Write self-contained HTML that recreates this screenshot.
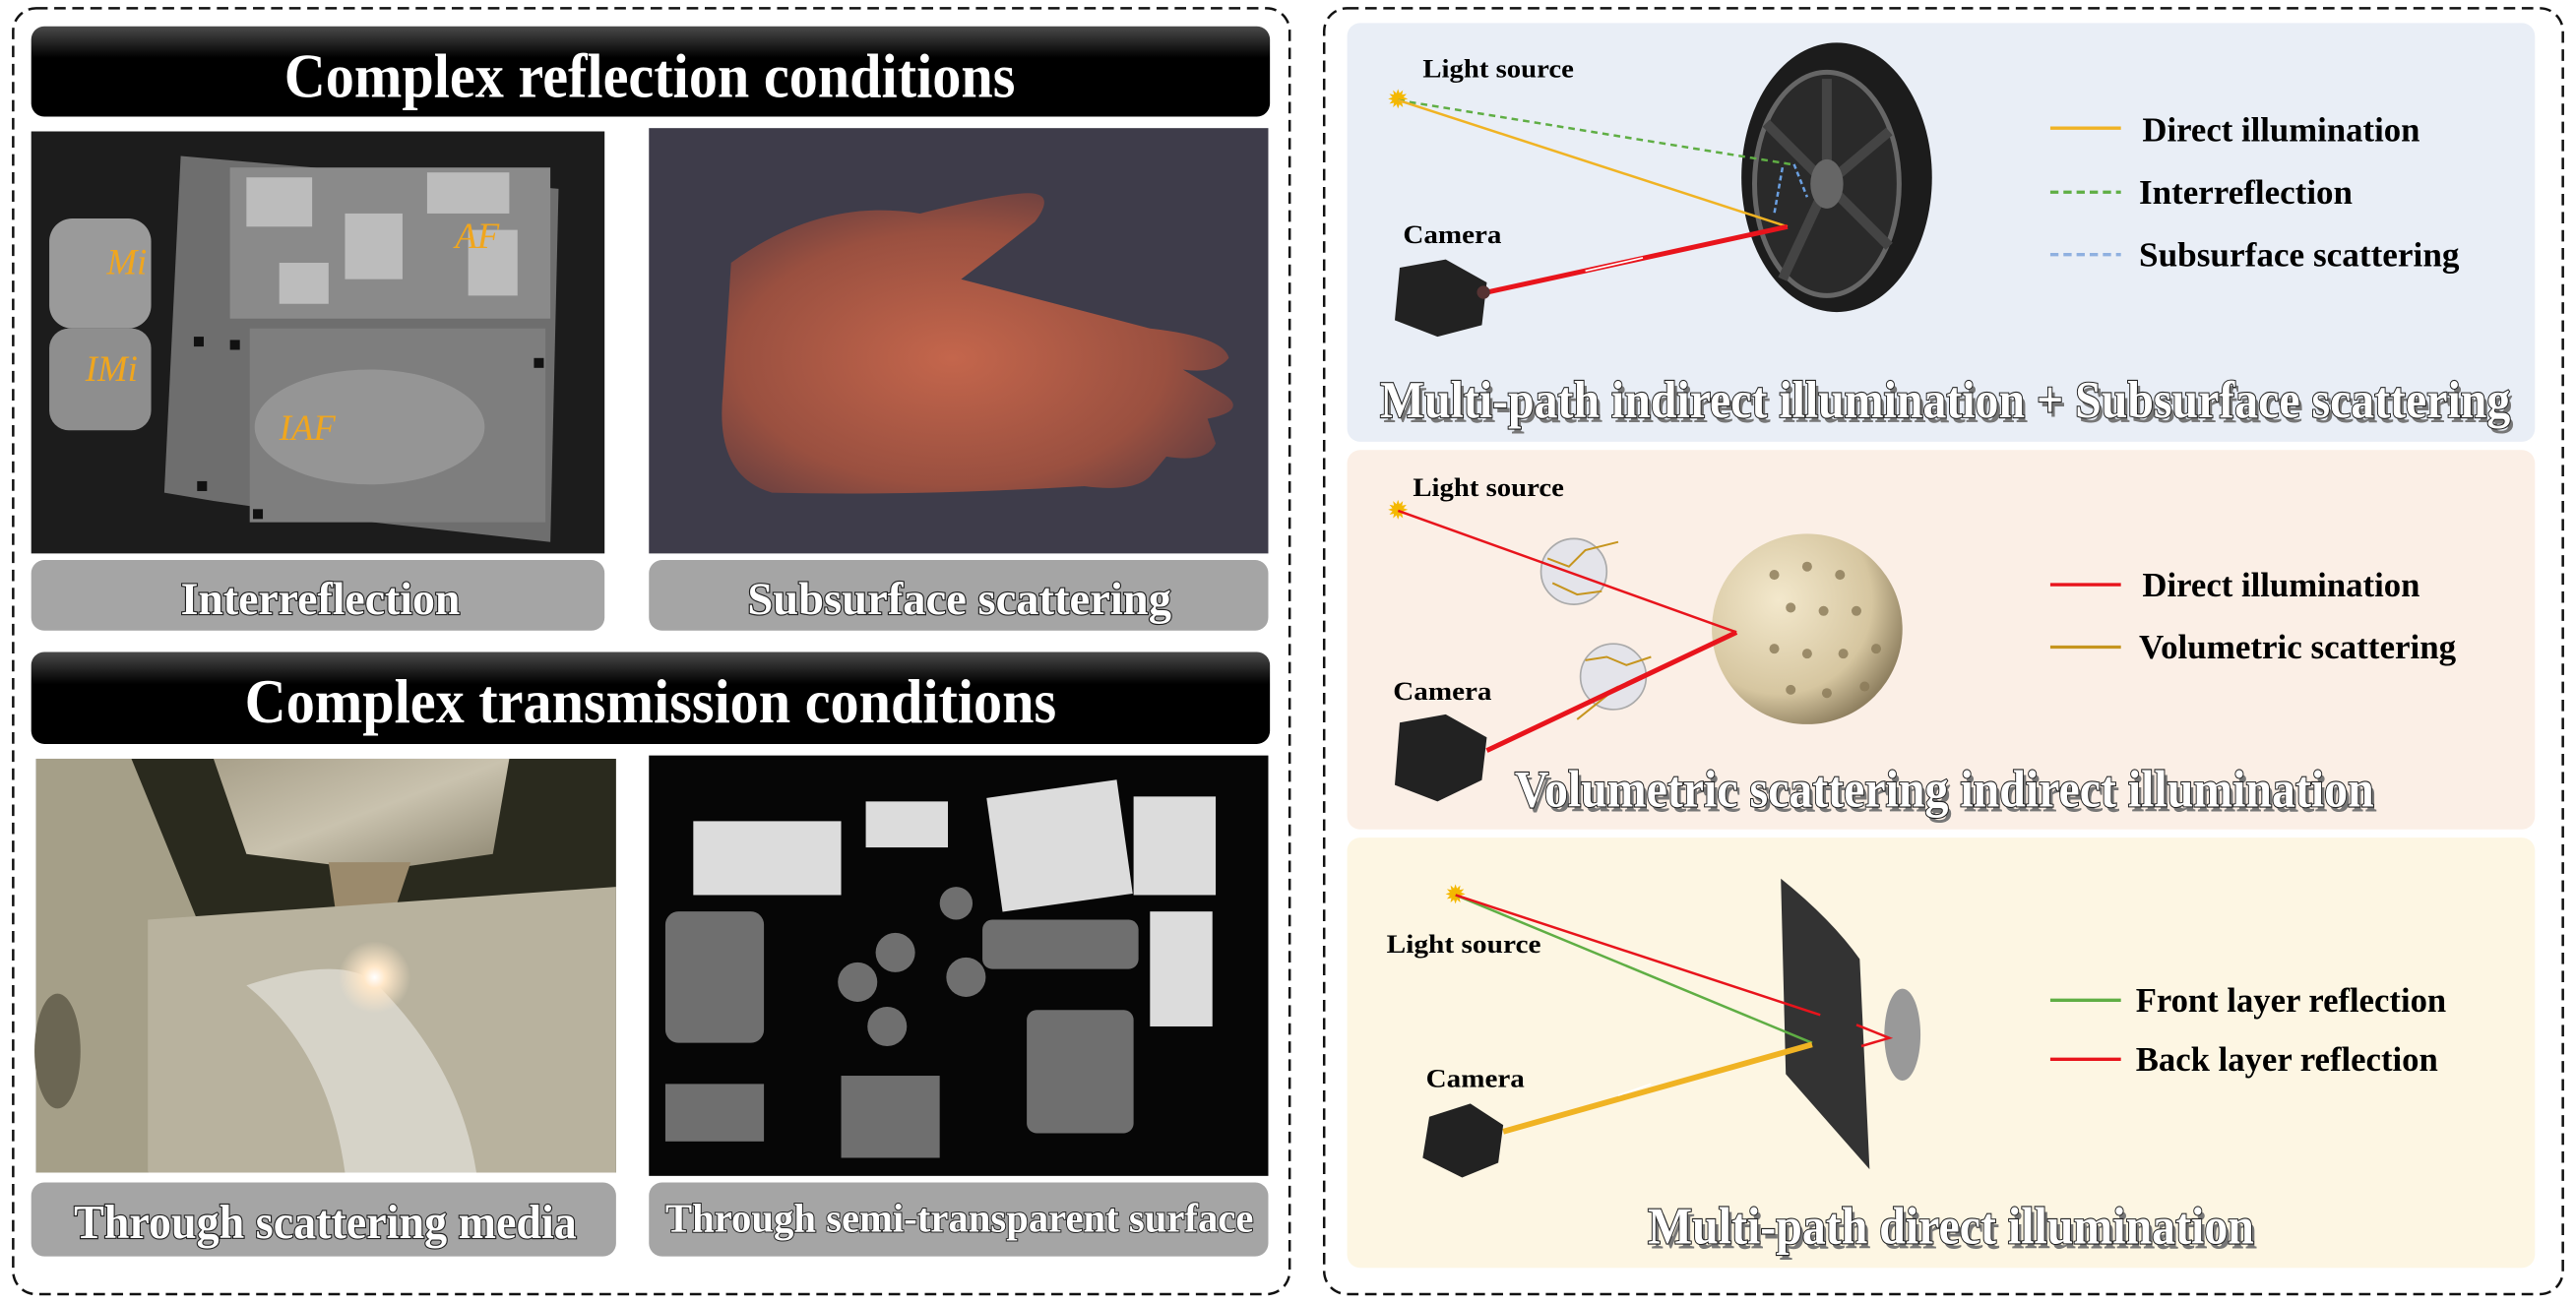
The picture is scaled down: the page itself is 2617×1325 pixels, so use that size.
<!DOCTYPE html>
<html><head><meta charset="utf-8"><style>
html,body{margin:0;padding:0;background:#fff;}
svg{display:block;}
text{font-family:"Liberation Serif",serif;}
</style></head><body>
<svg width="2617" height="1325" viewBox="0 0 1568 794" preserveAspectRatio="none" xmlns="http://www.w3.org/2000/svg">
<defs>
<linearGradient id="hdr" x1="0" y1="0" x2="0" y2="1"><stop offset="0" stop-color="#4a4a4a"/><stop offset="0.35" stop-color="#000"/><stop offset="1" stop-color="#000"/></linearGradient>
<radialGradient id="hand" cx="0.45" cy="0.55" r="0.6"><stop offset="0" stop-color="#c4664c"/><stop offset="0.7" stop-color="#9a5040"/><stop offset="1" stop-color="#6a4040"/></radialGradient>
<radialGradient id="sph" cx="0.35" cy="0.35" r="0.7"><stop offset="0" stop-color="#f3e8cc"/><stop offset="0.7" stop-color="#d6c6a0"/><stop offset="1" stop-color="#8f8060"/></radialGradient>
<radialGradient id="spark" cx="0.5" cy="0.5" r="0.5"><stop offset="0" stop-color="#fff"/><stop offset="0.3" stop-color="#ffe7c8"/><stop offset="1" stop-color="#ffe7c8" stop-opacity="0"/></radialGradient>
<linearGradient id="metal" x1="0" y1="0" x2="1" y2="1"><stop offset="0" stop-color="#a8a08a"/><stop offset="0.5" stop-color="#c9c2ae"/><stop offset="1" stop-color="#8a836e"/></linearGradient>
</defs>

<rect x="8" y="5" width="777" height="783" rx="14" fill="none" stroke="#111" stroke-width="1.5" stroke-dasharray="7,4"/>
<rect x="806" y="5" width="754" height="783" rx="14" fill="none" stroke="#111" stroke-width="1.5" stroke-dasharray="7,4"/>

<rect x="19" y="16" width="754" height="55" rx="8" fill="url(#hdr)"/>
<text x="173" y="59" font-size="38" font-weight="bold" fill="#fff" textLength="445" lengthAdjust="spacingAndGlyphs">Complex reflection conditions</text>

<!-- image 1 -->
<rect x="19" y="80" width="349" height="257" fill="#1c1c1c"/>
<polygon points="110,95 340,115 335,330 200,315 130,305 100,300" fill="#6e6e6e"/>
<rect x="140" y="102" width="195" height="92" fill="#8a8a8a"/>
<g fill="#e6e6e6" opacity="0.55"><rect x="150" y="108" width="40" height="30"/><rect x="210" y="130" width="35" height="40"/><rect x="260" y="105" width="50" height="25"/><rect x="170" y="160" width="30" height="25"/><rect x="285" y="140" width="30" height="40"/></g>
<rect x="152" y="200" width="180" height="118" fill="#7e7e7e"/>
<ellipse cx="225" cy="260" rx="70" ry="35" fill="#a5a5a5" opacity="0.6"/>
<rect x="30" y="133" width="62" height="67" rx="14" fill="#9a9a9a"/>
<rect x="30" y="200" width="62" height="62" rx="12" fill="#8e8e8e"/>
<g fill="#111"><rect x="140" y="207" width="6" height="6"/><rect x="118" y="205" width="6" height="6"/><rect x="325" y="218" width="6" height="6"/><rect x="154" y="310" width="6" height="6"/><rect x="120" y="293" width="6" height="6"/></g>
<g font-style="italic" font-size="22" fill="#f0a61e"><text x="65" y="167">Mi</text><text x="52" y="232">IMi</text><text x="277" y="151">AF</text><text x="170" y="268">IAF</text></g>
<rect x="19" y="341" width="349" height="43" rx="8" fill="#a5a5a5"/>
<text x="110" y="374" font-size="28" font-weight="bold" fill="#fff" stroke="#222" stroke-width="1.4" paint-order="stroke" textLength="170" lengthAdjust="spacingAndGlyphs">Interreflection</text>

<!-- image 2 hand -->
<rect x="395" y="78" width="377" height="259" fill="#3e3c4a"/>
<path d="M445,160 Q500,120 560,130 Q600,120 620,118 Q645,115 630,135 Q605,155 585,170 L700,200 Q745,205 748,218 Q740,228 720,225 L745,240 Q760,250 735,255 L740,270 Q735,282 710,278 L700,290 Q690,300 660,296 Q560,302 470,300 Q435,290 440,240 Z" fill="url(#hand)"/>
<rect x="395" y="341" width="377" height="43" rx="8" fill="#a5a5a5"/>
<text x="455" y="374" font-size="28" font-weight="bold" fill="#fff" stroke="#222" stroke-width="1.4" paint-order="stroke" textLength="258" lengthAdjust="spacingAndGlyphs">Subsurface scattering</text>

<rect x="19" y="397" width="754" height="56" rx="8" fill="url(#hdr)"/>
<text x="149" y="440" font-size="38" font-weight="bold" fill="#fff" textLength="494" lengthAdjust="spacingAndGlyphs">Complex transmission conditions</text>

<!-- image 3 -->
<rect x="22" y="462" width="353" height="252" fill="#2a2a1e"/>
<polygon points="22,462 80,462 120,560 90,714 22,714" fill="#a59f88"/>
<polygon points="130,462 310,462 300,520 230,530 150,520" fill="url(#metal)"/>
<polygon points="200,525 250,525 240,555 220,575 205,560" fill="#9b8a6c"/>
<path d="M90,560 L375,540 L375,714 L90,714 Z" fill="#b8b29e"/>
<path d="M150,600 Q210,580 230,600 Q280,650 290,714 L210,714 Q200,640 150,600 Z" fill="#d6d3c8"/>
<ellipse cx="35" cy="640" rx="14" ry="35" fill="#6b6653"/>
<circle cx="228" cy="595" r="22" fill="url(#spark)"/>
<rect x="19" y="720" width="356" height="45" rx="8" fill="#a5a5a5"/>
<text x="45" y="754" font-size="29" font-weight="bold" fill="#fff" stroke="#222" stroke-width="1.4" paint-order="stroke" textLength="306" lengthAdjust="spacingAndGlyphs">Through scattering media</text>

<!-- image 4 -->
<rect x="395" y="460" width="377" height="256" fill="#060606"/>
<g fill="#dcdcdc"><rect x="422" y="500" width="90" height="45"/><rect x="605" y="480" width="80" height="70" transform="rotate(-8 645 515)"/><rect x="690" y="485" width="50" height="60"/><rect x="527" y="488" width="50" height="28"/><rect x="700" y="555" width="38" height="70"/></g>
<g fill="#8a8a8a" opacity="0.8"><rect x="405" y="555" width="60" height="80" rx="8"/><rect x="625" y="615" width="65" height="75" rx="6"/><rect x="598" y="560" width="95" height="30" rx="6"/><rect x="405" y="660" width="60" height="35"/><rect x="512" y="655" width="60" height="50"/><circle cx="545" cy="580" r="12"/><circle cx="522" cy="598" r="12"/><circle cx="582" cy="550" r="10"/><circle cx="588" cy="595" r="12"/><circle cx="540" cy="625" r="12"/></g>
<rect x="395" y="720" width="377" height="45" rx="8" fill="#a5a5a5"/>
<text x="405" y="750" font-size="25" font-weight="bold" fill="#fff" stroke="#222" stroke-width="1.2" paint-order="stroke" textLength="358" lengthAdjust="spacingAndGlyphs">Through semi-transparent surface</text>

<!-- right panels -->
<rect x="820" y="14" width="723" height="255" rx="8" fill="#e9eef6"/>
<rect x="820" y="274" width="723" height="231" rx="8" fill="#fbefe6"/>
<rect x="820" y="510" width="723" height="262" rx="8" fill="#fdf6e3"/>

<!-- panel1 -->
<text x="866" y="47" font-size="16" font-weight="bold" fill="#000" textLength="92" lengthAdjust="spacingAndGlyphs">Light source</text>
<text x="851" y="66" font-size="16" text-anchor="middle" fill="#f4b800">✹</text>
<ellipse cx="1118" cy="108" rx="58" ry="82" fill="#1c1c1c"/>
<ellipse cx="1112" cy="112" rx="44" ry="68" fill="#2a2a2a" stroke="#666" stroke-width="3"/>
<g stroke="#444" stroke-width="6"><line x1="1112" y1="112" x2="1112" y2="48"/><line x1="1112" y1="112" x2="1150" y2="80"/><line x1="1112" y1="112" x2="1150" y2="150"/><line x1="1112" y1="112" x2="1085" y2="170"/><line x1="1112" y1="112" x2="1075" y2="75"/></g>
<ellipse cx="1112" cy="112" rx="10" ry="15" fill="#666"/>
<line x1="851" y1="61" x2="1090" y2="100" stroke="#5fae44" stroke-width="1.5" stroke-dasharray="4,3"/>
<line x1="851" y1="61" x2="1088" y2="138" stroke="#f0b323" stroke-width="1.5"/>
<path d="M1085,102 L1080,130 M1092,100 L1100,120" stroke="#6a9fe0" stroke-width="1.5" stroke-dasharray="3,2" fill="none"/>
<line x1="1088" y1="138" x2="905" y2="178" stroke="#e8141c" stroke-width="3"/>
<line x1="1000" y1="157" x2="965" y2="165" stroke="#fff" stroke-width="1"/>
<text x="854" y="148" font-size="16" font-weight="bold" fill="#000" textLength="60" lengthAdjust="spacingAndGlyphs">Camera</text>
<polygon points="852,163 880,158 905,172 902,198 875,205 849,195" fill="#222"/>
<circle cx="903" cy="178" r="4" fill="#533"/>
<line x1="1248" y1="78" x2="1291" y2="78" stroke="#f0b323" stroke-width="2"/>
<line x1="1248" y1="117" x2="1291" y2="117" stroke="#5fae44" stroke-width="2" stroke-dasharray="5,3"/>
<line x1="1248" y1="155" x2="1291" y2="155" stroke="#8fb0e0" stroke-width="2" stroke-dasharray="5,3"/>
<g font-size="21" font-weight="bold" fill="#000"><text x="1304" y="86" textLength="169" lengthAdjust="spacingAndGlyphs">Direct illumination</text><text x="1302" y="124" textLength="130" lengthAdjust="spacingAndGlyphs">Interreflection</text><text x="1302" y="162" textLength="195" lengthAdjust="spacingAndGlyphs">Subsurface scattering</text></g>
<text x="842" y="257" font-size="32" font-weight="bold" fill="#777" textLength="688" lengthAdjust="spacingAndGlyphs">Multi-path indirect illumination + Subsurface scattering</text>
<text x="840" y="254" font-size="32" font-weight="bold" fill="#fff" stroke="#222" stroke-width="1.3" paint-order="stroke" textLength="688" lengthAdjust="spacingAndGlyphs">Multi-path indirect illumination + Subsurface scattering</text>

<!-- panel2 -->
<text x="860" y="302" font-size="16" font-weight="bold" fill="#000" textLength="92" lengthAdjust="spacingAndGlyphs">Light source</text>
<text x="851" y="316" font-size="16" text-anchor="middle" fill="#f4b800">✹</text>
<circle cx="1100" cy="383" r="58" fill="url(#sph)"/>
<g fill="#8a7a58" opacity="0.8"><circle cx="1080" cy="350" r="3"/><circle cx="1100" cy="345" r="3"/><circle cx="1120" cy="350" r="3"/><circle cx="1090" cy="370" r="3"/><circle cx="1110" cy="372" r="3"/><circle cx="1130" cy="372" r="3"/><circle cx="1080" cy="395" r="3"/><circle cx="1100" cy="398" r="3"/><circle cx="1122" cy="398" r="3"/><circle cx="1142" cy="395" r="3"/><circle cx="1090" cy="420" r="3"/><circle cx="1112" cy="422" r="3"/><circle cx="1135" cy="418" r="3"/></g>
<circle cx="958" cy="348" r="20" fill="#e4e4ea" stroke="#aaa"/>
<circle cx="982" cy="412" r="20" fill="#e4e4ea" stroke="#aaa"/>
<path d="M942,340 L955,345 L965,335 L985,330 M945,355 L960,362 L975,360" stroke="#c6951e" stroke-width="1.2" fill="none"/>
<path d="M965,402 L978,400 L990,405 L1005,400 M972,425 L985,418 L960,438" stroke="#c6951e" stroke-width="1.2" fill="none"/>
<polyline points="851,311 1057,385" fill="none" stroke="#e8141c" stroke-width="1.5"/>
<line x1="1057" y1="385" x2="905" y2="457" stroke="#e8141c" stroke-width="3"/>
<text x="848" y="426" font-size="16" font-weight="bold" fill="#000" textLength="60" lengthAdjust="spacingAndGlyphs">Camera</text>
<polygon points="852,440 880,435 905,449 902,475 875,488 849,478" fill="#222"/>
<line x1="1248" y1="356" x2="1291" y2="356" stroke="#e8141c" stroke-width="2"/>
<line x1="1248" y1="394" x2="1291" y2="394" stroke="#c6951e" stroke-width="2"/>
<g font-size="21" font-weight="bold" fill="#000"><text x="1304" y="363" textLength="169" lengthAdjust="spacingAndGlyphs">Direct illumination</text><text x="1302" y="401" textLength="193" lengthAdjust="spacingAndGlyphs">Volumetric scattering</text></g>
<text x="924" y="494" font-size="32" font-weight="bold" fill="#777" textLength="523" lengthAdjust="spacingAndGlyphs">Volumetric scattering indirect illumination</text>
<text x="922" y="491" font-size="32" font-weight="bold" fill="#fff" stroke="#222" stroke-width="1.3" paint-order="stroke" textLength="523" lengthAdjust="spacingAndGlyphs">Volumetric scattering indirect illumination</text>

<!-- panel3 -->
<text x="886" y="550" font-size="16" text-anchor="middle" fill="#f4b800">✹</text>
<text x="844" y="580" font-size="16" font-weight="bold" fill="#000" textLength="94" lengthAdjust="spacingAndGlyphs">Light source</text>
<path d="M1084,535 Q1115,560 1132,584 L1138,712 L1087,654 Z" fill="#333"/>
<ellipse cx="1158" cy="630" rx="11" ry="28" fill="#999"/>
<line x1="886" y1="545" x2="1103" y2="635" stroke="#5fae44" stroke-width="1.5"/>
<polyline points="886,545 1108,618" fill="none" stroke="#e8141c" stroke-width="1.5"/>
<polyline points="1130,624 1150,632 1133,637" fill="none" stroke="#e8141c" stroke-width="1.5"/>
<line x1="1103" y1="636" x2="915" y2="689" stroke="#f0b323" stroke-width="3.5"/>
<line x1="1005" y1="660" x2="985" y2="667" stroke="#fff" stroke-width="1"/>
<text x="868" y="662" font-size="16" font-weight="bold" fill="#000" textLength="60" lengthAdjust="spacingAndGlyphs">Camera</text>
<polygon points="870,680 895,672 915,685 912,708 890,717 866,705" fill="#222"/>
<line x1="1248" y1="609" x2="1291" y2="609" stroke="#5fae44" stroke-width="2"/>
<line x1="1248" y1="645" x2="1291" y2="645" stroke="#e8141c" stroke-width="2"/>
<g font-size="21" font-weight="bold" fill="#000"><text x="1300" y="616" textLength="189" lengthAdjust="spacingAndGlyphs">Front layer reflection</text><text x="1300" y="652" textLength="184" lengthAdjust="spacingAndGlyphs">Back layer reflection</text></g>
<text x="1005" y="760" font-size="32" font-weight="bold" fill="#777" textLength="369" lengthAdjust="spacingAndGlyphs">Multi-path direct illumination</text>
<text x="1003" y="757" font-size="32" font-weight="bold" fill="#fff" stroke="#222" stroke-width="1.3" paint-order="stroke" textLength="369" lengthAdjust="spacingAndGlyphs">Multi-path direct illumination</text>
</svg>
</body></html>
